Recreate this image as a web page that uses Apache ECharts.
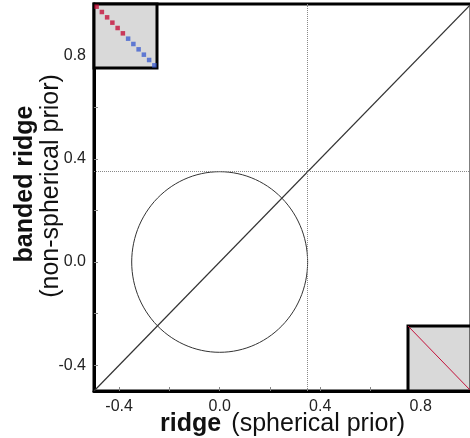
<!DOCTYPE html>
<html>
<head>
<meta charset="utf-8">
<script src="https://cdn.jsdelivr.net/npm/echarts@6/dist/echarts.min.js"></script>
<style>
  html, body { margin: 0; padding: 0; background: #fff; }
  #myChart { width: 470px; height: 438px; }
</style>
</head>
<body>
<div id="myChart"></div>
<script>
// axis ticks / labels
var tickValues = [-0.4, -0.2, 0.0, 0.2, 0.4, 0.6, 0.8]
var labelValues = [-0.4, 0.0, 0.4, 0.8]
var axisMin = -0.5
var axisMax = 1.0

// identity line and the spherical prior circle
var diagLine = [[-0.5, -0.5], [1.0, 1.0]]
var circle = [[0.0, 0.0, 0.35]] // cx, cy, r
var markX = 0.35
var markY = 0.35

// inset matrix (12x12), diagonal coloured in two bands
var matCats = ['0', '1', '2', '3', '4', '5', '6', '7', '8', '9', '10', '11']
var redBand = [[0, 0], [1, 1], [2, 2], [3, 3], [4, 4], [5, 5]]
var blueBand = [[6, 6], [7, 7], [8, 8], [9, 9], [10, 10], [11, 11]]
// second inset: single diagonal
var insetLine = [[0, 1], [1, 0]]

var font = 'Liberation Sans, Arial, sans-serif'
var myChart = echarts.init(document.getElementById('myChart'))

var option = {
  animation: false,
  grid: [
    { left: 94, top: 4, width: 377, height: 387, outerBoundsMode: 'none', containLabel: false, show: true, borderColor: '#000', borderWidth: 3, backgroundColor: '#fff' },
    { left: 94, top: 4, width: 63, height: 64, outerBoundsMode: 'none', show: true, borderColor: '#000', borderWidth: 3, backgroundColor: '#d9d9d9', z: 10 },
    { left: 408, top: 326, width: 63, height: 65, outerBoundsMode: 'none', show: true, borderColor: '#000', borderWidth: 3, backgroundColor: '#d9d9d9', z: 10 }
  ],
  xAxis: [
    {
      gridIndex: 0,
      type: 'value',
      min: axisMin,
      max: axisMax,
      name: '{b|ridge} {r| (spherical prior)}',
      nameLocation: 'middle',
      nameGap: 21,
      nameMoveOverlap: false,
      nameTextStyle: {
        rich: {
          b: { fontFamily: font, fontSize: 25, fontWeight: 'bold', color: '#111' },
          r: { fontFamily: font, fontSize: 25, color: '#111' }
        }
      },
      splitLine: { show: false },
      axisLine: { show: true, onZero: false, lineStyle: { color: '#000', width: 3 } },
      axisTick: { inside: true, length: 4, customValues: tickValues, lineStyle: { color: '#888' } },
      axisLabel: {
        customValues: labelValues,
        margin: 8,
        fontFamily: font,
        fontSize: 16,
        color: '#222',
        formatter: function (v) { return v.toFixed(1) }
      }
    },
    { gridIndex: 1, type: 'category', data: matCats, show: false, boundaryGap: true },
    { gridIndex: 2, type: 'value', min: 0, max: 1, show: false }
  ],
  yAxis: [
    {
      gridIndex: 0,
      type: 'value',
      min: axisMin,
      max: axisMax,
      splitLine: { show: false },
      axisLine: { show: true, onZero: false, lineStyle: { color: '#000', width: 3 } },
      axisTick: { inside: true, length: 4, customValues: tickValues, lineStyle: { color: '#888' } },
      axisLabel: {
        customValues: labelValues,
        margin: 8,
        fontFamily: font,
        fontSize: 16,
        color: '#222',
        formatter: function (v) { return v.toFixed(1) }
      }
    },
    { gridIndex: 1, type: 'category', data: matCats, inverse: true, show: false, boundaryGap: true },
    { gridIndex: 2, type: 'value', min: 0, max: 1, show: false }
  ],
  graphic: [
    {
      type: 'text', x: 25, y: 184, rotation: Math.PI / 2,
      style: { text: 'banded ridge', fontFamily: font, fontSize: 25, fontWeight: 'bold', fill: '#111', align: 'center', verticalAlign: 'middle' }
    },
    {
      type: 'text', x: 51, y: 186, rotation: Math.PI / 2,
      style: { text: '(non-spherical prior)', fontFamily: font, fontSize: 25, fill: '#111', align: 'center', verticalAlign: 'middle' }
    }
  ],
  series: [
    {
      type: 'line',
      xAxisIndex: 0,
      yAxisIndex: 0,
      data: diagLine,
      symbol: 'none',
      lineStyle: { color: '#333', width: 1.2 },
      markLine: {
        silent: true,
        symbol: 'none',
        label: { show: false },
        lineStyle: { color: '#888', type: 'dotted', width: 1 },
        data: [{ xAxis: markX }, { yAxis: markY }]
      }
    },
    {
      type: 'custom',
      xAxisIndex: 0,
      yAxisIndex: 0,
      data: circle,
      renderItem: function (params, api) {
        var cx = api.value(0), cy = api.value(1), r = api.value(2)
        var pts = []
        for (var a = 0; a <= 360; a += 3) {
          var t = a * Math.PI / 180
          pts.push(api.coord([cx + r * Math.cos(t), cy + r * Math.sin(t)]))
        }
        return {
          type: 'polyline',
          shape: { points: pts },
          style: { stroke: '#333', lineWidth: 1, fill: null }
        }
      }
    },
    {
      type: 'scatter',
      xAxisIndex: 1,
      yAxisIndex: 1,
      data: redBand,
      symbol: 'rect',
      symbolSize: 4.5,
      itemStyle: { color: '#c4103a' },
      z: 12
    },
    {
      type: 'scatter',
      xAxisIndex: 1,
      yAxisIndex: 1,
      data: blueBand,
      symbol: 'rect',
      symbolSize: 4.5,
      itemStyle: { color: '#3f5fd0' },
      z: 12
    },
    {
      type: 'line',
      xAxisIndex: 2,
      yAxisIndex: 2,
      data: insetLine,
      symbol: 'none',
      lineStyle: { color: '#c4103a', width: 1 },
      z: 12
    }
  ]
}
myChart.setOption(option)
</script>
</body>
</html>
